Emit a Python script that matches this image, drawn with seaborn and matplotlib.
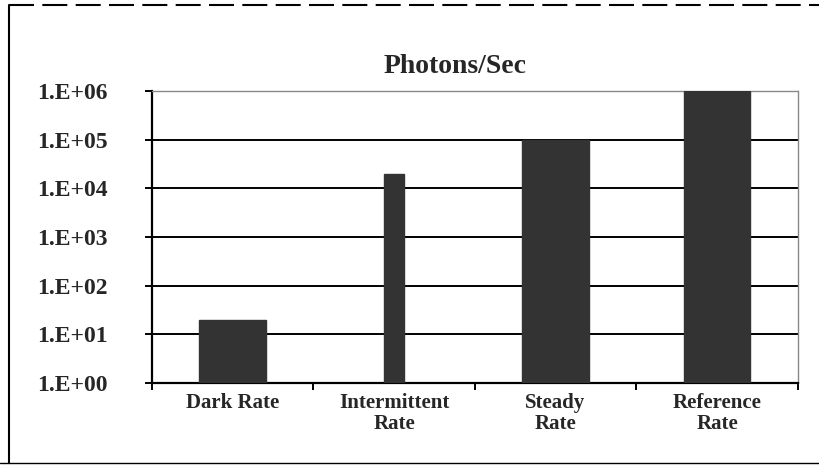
# Photons/Sec bar chart on a log axis, drawn with seaborn

import matplotlib
matplotlib.use('Agg')
import matplotlib.pyplot as plt
import matplotlib.lines as mlines
from matplotlib.ticker import FixedLocator
import pandas as pd
import seaborn as sns

# Data
categories = ['Dark Rate', 'Intermittent\nRate', 'Steady\nRate', 'Reference\nRate']
photons = [20, 2.0e4, 1.0e5, 1.0e6]
bar_widths = [0.41, 0.12, 0.41, 0.41]
y_ticks = [1e0, 1e1, 1e2, 1e3, 1e4, 1e5, 1e6]
y_tick_labels = ['1.E+00', '1.E+01', '1.E+02', '1.E+03', '1.E+04', '1.E+05', '1.E+06']

df = pd.DataFrame({'Category': categories, 'Photons': photons})

sns.set_style('white')
plt.rcParams['font.family'] = ['Liberation Serif', 'DejaVu Serif']
plt.rcParams['font.weight'] = 'bold'

fig = plt.figure(figsize=(8.2, 4.65), dpi=100)
ax = fig.add_axes([0.185, 0.176, 0.788, 0.628])

sns.barplot(data=df, x='Category', y='Photons', color='#333333',
            width=0.41, ax=ax, zorder=3)
ax.set_yscale('log')

# per-bar widths (the intermittent bar is narrow in the original)
for patch, w in zip(ax.patches, bar_widths):
    cx = patch.get_x() + patch.get_width() / 2
    patch.set_width(w)
    patch.set_x(cx - w / 2)
    patch.set_edgecolor('#333333')
    patch.set_zorder(3)

ax.set_ylim(1, 1e6)
ax.set_xlim(-0.5, 3.5)
ax.yaxis.set_major_locator(FixedLocator(y_ticks))
ax.set_yticklabels(y_tick_labels)
ax.yaxis.set_minor_locator(FixedLocator([]))
ax.grid(axis='y', color='black', linewidth=1.4, zorder=1)
ax.set_axisbelow(True)

# category labels centred, tick marks on the category boundaries
ax.xaxis.set_minor_locator(FixedLocator([-0.5, 0.5, 1.5, 2.5, 3.5]))
ax.tick_params(axis='x', which='major', length=0, pad=7, labelsize=15)
ax.tick_params(axis='x', which='minor', length=5, width=1.4, direction='out',
               color='black', bottom=True)
ax.tick_params(axis='y', which='major', length=5, width=1.4, direction='out',
               color='black', pad=27, labelsize=17, left=True)
for lab in ax.get_xticklabels():
    lab.set_linespacing(1.05)
    lab.set_fontweight('bold')
for lab in ax.get_yticklabels():
    lab.set_fontweight('bold')

ax.set_xlabel('')
ax.set_ylabel('')

for side in ['left', 'bottom']:
    ax.spines[side].set_color('black')
    ax.spines[side].set_linewidth(1.6)
for side in ['top', 'right']:
    ax.spines[side].set_visible(True)
    ax.spines[side].set_color('#888888')
    ax.spines[side].set_linewidth(1.0)
    ax.spines[side].set_linestyle((0, (1, 1)))

fig.text(0.555, 0.83, 'Photons/Sec', ha='center', va='bottom',
         fontsize=20, fontweight='bold')

# frame around the figure (left, top, bottom edges)
fig.add_artist(mlines.Line2D([0.011, 0.011], [0.005, 0.99], color='black', linewidth=1.5))
fig.add_artist(mlines.Line2D([0.011, 1.0], [0.99, 0.99], color='black', linewidth=1.5,
                             linestyle=(0, (12, 4))))
fig.add_artist(mlines.Line2D([0.0, 1.0], [0.005, 0.005], color='black', linewidth=1.0))

fig.savefig('out.png', dpi=100)
